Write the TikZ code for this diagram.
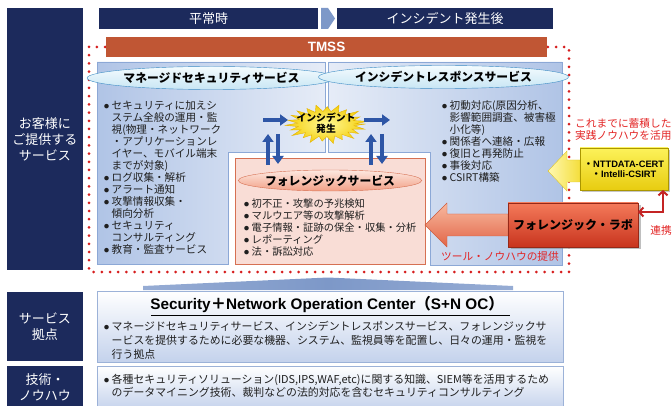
\documentclass[tikz,border=0pt]{standalone}
\usepackage{fontspec}
\setmainfont{Noto Sans CJK JP}
\newfontfamily\latinsans{Liberation Sans}
\usetikzlibrary{arrows.meta,shapes.geometric,shadows}
\definecolor{navy}{RGB}{28,42,92}
\definecolor{tmss}{RGB}{192,86,52}
\definecolor{dotred}{RGB}{214,30,30}
\definecolor{panelL}{RGB}{176,196,230}
\definecolor{panelM}{RGB}{230,236,247}
\definecolor{panelB}{RGB}{140,168,214}
\definecolor{chev}{RGB}{125,152,200}
\definecolor{chevL}{RGB}{150,172,212}
\definecolor{ellB}{RGB}{60,140,196}
\definecolor{ellT}{RGB}{244,251,254}
\definecolor{ellBot}{RGB}{200,230,244}
\definecolor{pinkF}{RGB}{249,221,214}
\definecolor{pinkB}{RGB}{214,112,82}
\definecolor{fellT}{RGB}{253,232,224}
\definecolor{fellB}{RGB}{242,160,134}
\definecolor{arrowblue}{RGB}{46,86,166}
\definecolor{redt}{RGB}{226,36,36}
\definecolor{darkred}{RGB}{196,36,36}
\definecolor{yelT}{RGB}{252,242,90}
\definecolor{yelB}{RGB}{232,204,16}
\definecolor{yelD}{RGB}{170,150,0}
\definecolor{yaD}{RGB}{220,196,40}
\definecolor{yaL}{RGB}{255,248,176}
\definecolor{yaR}{RGB}{244,222,60}
\definecolor{burstD}{RGB}{230,180,0}
\definecolor{burstI}{RGB}{255,248,150}
\definecolor{burstO}{RGB}{244,206,10}
\definecolor{raD}{RGB}{208,90,58}
\definecolor{raT}{RGB}{248,186,160}
\definecolor{raB}{RGB}{226,100,70}
\definecolor{labD}{RGB}{150,40,24}
\definecolor{labT}{RGB}{244,122,90}
\definecolor{labB}{RGB}{200,52,30}
\definecolor{snB}{RGB}{156,178,216}
\definecolor{snBot}{RGB}{196,210,236}
\newcommand\mybul{\makebox[7.5pt][l]{\raisebox{1.3pt}{\fontsize{5}{5}\selectfont ●}}}
\newcommand\myind{\hspace*{7.5pt}}
\begin{document}
\begin{tikzpicture}[x=1pt,y=-1pt,
  navybox/.style={fill=navy, text=white, font=\fontsize{13}{16}\selectfont, align=center, inner sep=0},
  hdr/.style={fill=navy, text=white, font=\fontsize{13}{15}\selectfont, inner sep=0, minimum height=21pt},
  ttl/.style={ellipse, font=\bfseries\fontsize{11.8}{13}\selectfont, inner sep=0},
  txt/.style={align=left, inner sep=0, anchor=north west, font=\fontsize{10.6}{12}\selectfont, text=black!88},
  redtxt/.style={text=redt, font=\fontsize{10.7}{12}\selectfont, align=left, inner sep=0},
  barrow/.style={draw=arrowblue, line width=4pt, -{Triangle[width=11pt,length=8pt]}},
  snbox/.style={draw=snB, top color=white, bottom color=snBot, inner sep=0, minimum width=466pt}
]
\useasboundingbox (0,0) rectangle (672,406);

% left navy labels
\node[navybox, minimum width=76pt, minimum height=262pt] (cust) at (45,139) {お客様に\\ご提供する\\サービス};
\node[navybox, minimum width=76pt, minimum height=69pt] (base) at (45,326.5) {サービス\\拠点};
\node[navybox, minimum width=76pt, minimum height=44pt] (tech) at (45,388) {};
\node[text=white, font=\fontsize{13}{16}\selectfont, align=center, inner sep=0] (techt) at (45,387) {技術・\\ノウハウ};

% headers
\node[hdr, minimum width=219pt] (h1) at (208.5,18.5) {平常時};
\node[hdr, minimum width=216pt] (h2) at (445,18.5) {インシデント発生後};
\fill[chev] (321,8) -- (328,8) -- (335,18.5) -- (328,29) -- (321,29) -- cycle;

% dotted frame
\draw[dotred, line width=3pt, line cap=round, dash pattern=on 0pt off 8.2pt] (89,47) rectangle (569,272);

% TMSS bar
\node[fill=tmss, text=white, font=\latinsans\bfseries\fontsize{13.5}{15}\selectfont, minimum width=441pt, minimum height=20pt, inner sep=0] (tmss) at (326.5,47) {TMSS};

% panels
\path[draw=panelB, left color=panelL, right color=panelM] (97,62) -- (325,62) -- (325,152) -- (228,152) -- (228,264) -- (97,264) -- cycle;
\path[draw=panelB, left color=panelM, right color=panelL] (328,62) -- (562,62) -- (562,265) -- (430,265) -- (430,152) -- (328,152) -- cycle;

\node[ttl, draw=ellB, top color=ellT, bottom color=ellBot, minimum width=213pt, minimum height=23pt] (mss) at (211.5,78) {マネージドセキュリティサービス};
\node[ttl, draw=ellB, top color=ellT, bottom color=ellBot, minimum width=217pt, minimum height=23pt] (irs) at (443.5,77) {インシデントレスポンスサービス};

\node[txt] (mtxt) at (104,100.8) {\mybul セキュリティに加えシ\\\myind ステム全般の運用・監\\\myind 視(物理・ネットワーク\\\myind ・アプリケーションレ\\\myind イヤー、モバイル端末\\\myind までが対象)\\\mybul ログ収集・解析\\\mybul アラート通知\\\mybul 攻撃情報収集・\\\myind 傾向分析\\\mybul セキュリティ\\\myind コンサルティング\\\mybul 教育・監査サービス};

\node[txt] (itxt) at (442,100.8) {\mybul 初動対応(原因分析、\\\myind 影響範囲調査、被害極\\\myind 小化等)\\\mybul 関係者へ連絡・広報\\\mybul 復旧と再発防止\\\mybul 事後対応\\\mybul CSIRT構築};

% forensic box
\node[draw=pinkB, fill=pinkF, minimum width=190pt, minimum height=106pt, inner sep=0] (fbox) at (330,211) {};
\node[ttl, draw=pinkB, top color=fellT, bottom color=fellB, minimum width=160pt, minimum height=21pt] (fss) at (330,180.5) {フォレンジックサービス};
\node[txt, font=\fontsize{10.3}{12}\selectfont] (ftxt) at (244,198.6) {\mybul 初不正・攻撃の予兆検知\\\mybul マルウエア等の攻撃解析\\\mybul 電子情報・証跡の保全・収集・分析\\\mybul レポーティング\\\mybul 法・訴訟対応};

% incident burst
\path[draw=burstD, inner color=burstI, outer color=burstO] plot[samples at={0,...,45}, variable=\i]
  ({326+(mod(\i,2)==0 ? 39.5*(1+0.07*sin(\i*83)) : 28.5)*cos(\i*8)}, {124+(mod(\i,2)==0 ? 18.5*(1+0.07*sin(\i*83)) : 12.5)*sin(\i*8)}) -- cycle;
\node[font=\bfseries\fontsize{9.8}{10.5}\selectfont, align=center, inner sep=0] (bursttxt) at (326,123) {インシデント\\発生};

% blue arrows
\coordinate (a1s) at (263,120); \coordinate (a1e) at (288,120);
\coordinate (a2s) at (364,120); \coordinate (a2e) at (390,120);
\coordinate (u1s) at (268,165); \coordinate (u1e) at (268,134);
\coordinate (d1s) at (278,134); \coordinate (d1e) at (278,164);
\coordinate (u2s) at (371,165); \coordinate (u2e) at (371,134);
\coordinate (d2s) at (382,134); \coordinate (d2e) at (382,164);
\draw[barrow] (a1s) -- (a1e);
\draw[barrow] (a2s) -- (a2e);
\draw[barrow] (u1s) -- (u1e);
\draw[barrow] (d1s) -- (d1e);
\draw[barrow] (u2s) -- (u2e);
\draw[barrow] (d2s) -- (d2e);

% yellow arrow and box
\path[draw=yaD, left color=yaL, right color=yaR] (548,171) -- (567,151) -- (567,160) -- (580,160) -- (580,182) -- (567,182) -- (567,191) -- cycle;
\node[draw=yelD, top color=yelT, bottom color=yelB, minimum width=88pt, minimum height=42pt, inner sep=0, font=\bfseries\fontsize{9.3}{10}\selectfont, align=center, drop shadow={shadow xshift=2pt, shadow yshift=-2pt, opacity=0.45}] (cert) at (624,169) {・{\latinsans NTTDATA-CERT}\\・{\latinsans Intelli-CSIRT}};

% red arrow and lab box
\path[draw=raD, top color=raT, bottom color=raB] (425,225) -- (447,203) -- (447,214) -- (508,214) -- (508,236) -- (447,236) -- (447,247) -- cycle;
\node[draw=labD, top color=labT, bottom color=labB, minimum width=130pt, minimum height=44pt, inner sep=0, font=\bfseries\fontsize{12}{13}\selectfont, drop shadow={shadow xshift=2.5pt, shadow yshift=-2.5pt, opacity=0.5}] (lab) at (573,225) {フォレンジック・ラボ};

% red link arrow
\coordinate (ys) at (663,190);
\coordinate (le) at (638,212);
\draw[darkred, line width=2pt, {Straight Barb[length=4pt,width=9pt]}-{Straight Barb[length=4pt,width=9pt]}] (ys) |- (le);

% red texts
\node[redtxt, anchor=west] (know) at (575,129) {これまでに蓄積した\\実践ノウハウを活用};
\node[redtxt] (tool) at (500,256) {ツール・ノウハウの提供};
\node[redtxt] (renk) at (661,230) {連携};

% trapezoid
\path[left color=chevL, right color=chevL, middle color=chev] (143,286) -- (328,277.5) -- (513,286) -- (513,290) -- (143,290) -- cycle;

% S+N OC box
\node[snbox, minimum height=71pt] (snoc) at (330,326.5) {};
\node[font=\bfseries\fontsize{15.3}{17}\selectfont, inner sep=0] (sntitle) at (327,304) {{\latinsans Security}＋{\latinsans Network Operation Center}（{\latinsans S+N OC}）};
\coordinate (ul1) at (151,315.5); \coordinate (ul2) at (510,315.5);
\draw[black, line width=0.9pt] (ul1) -- (ul2);
\node[txt, font=\fontsize{10.9}{14.2}\selectfont] (sntxt) at (104,321) {\mybul マネージドセキュリティサービス、インシデントレスポンスサービス、フォレンジックサ\\\myind ービスを提供するために必要な機器、システム、監視員等を配置し、日々の運用・監視を\\\myind 行う拠点};

% bottom box
\node[snbox, minimum height=44pt] (know2) at (330,388) {};
\node[txt, font=\fontsize{10.9}{13}\selectfont] (ktxt) at (104,374) {\mybul 各種セキュリティソリューション(IDS,IPS,WAF,etc)に関する知識、SIEM等を活用するため\\\myind のデータマイニング技術、裁判などの法的対応を含むセキュリティコンサルティング};
\end{tikzpicture}
\end{document}
